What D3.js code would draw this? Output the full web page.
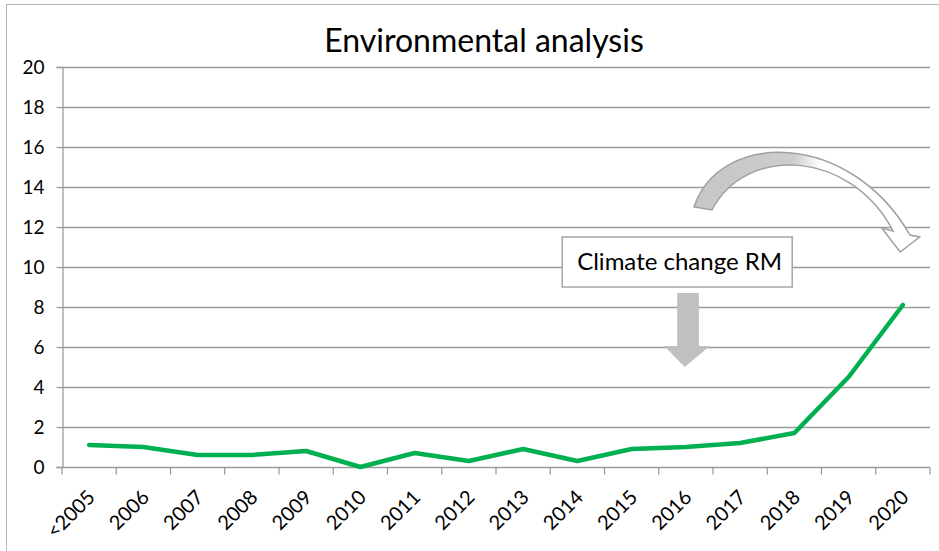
<!DOCTYPE html>
<html>
<head>
<meta charset="utf-8">
<script src="https://cdn.jsdelivr.net/npm/d3@7"></script>
<style>
  html, body { margin: 0; padding: 0; background: #fff; }
  svg { display: block; font-family: Lato, "Open Sans", sans-serif; }
</style>
</head>
<body>
<div id="container"></div>
<script>

// data
const years = ["<2005", "2006", "2007", "2008", "2009", "2010", "2011", "2012",
               "2013", "2014", "2015", "2016", "2017", "2018", "2019", "2020"];
const values = [1.1, 1.0, 0.6, 0.6, 0.8, 0.0, 0.7, 0.3, 0.9, 0.3, 0.9, 1.0, 1.2, 1.7, 4.5, 8.1];
const yTicks = [0, 2, 4, 6, 8, 10, 12, 14, 16, 18, 20];
const title = "Environmental analysis";
const note = "Climate change RM";

// chart dimensions
const width = 939;
const height = 551;
const marginTop = 67;
const marginRight = 9;
const marginBottom = 84;
const marginLeft = 62;

const x = d3.scaleBand()
    .domain(years)
    .range([marginLeft, width - marginRight]);

const y = d3.scaleLinear()
    .domain([0, 20])
    .range([height - marginBottom, marginTop]);

// continuous position in band units, for the annotations
const xPos = t => x.range()[0] + t * x.step();
const pt = (t, v) => [xPos(t), y(v)];

const svg = d3.create("svg")
    .attr("width", width)
    .attr("height", height);

// chart frame
svg.append("rect")
    .attr("x", 6.5).attr("y", 4.5)
    .attr("width", width + 10).attr("height", height + 10)
    .attr("fill", "#fff")
    .attr("stroke", "#b4b4b4");

// title
svg.append("text")
    .attr("x", 484)
    .attr("y", 52)
    .attr("text-anchor", "middle")
    .attr("font-size", 32)
    .attr("fill", "#000")
    .text(title);

// gridlines
svg.append("g")
    .selectAll("line")
    .data(yTicks.filter(d => d > 0))
    .join("line")
    .attr("x1", marginLeft)
    .attr("x2", width - marginRight)
    .attr("y1", d => Math.round(y(d)) + 0.5)
    .attr("y2", d => Math.round(y(d)) + 0.5)
    .attr("stroke", "#9b9b9b")
    .attr("stroke-width", 1.3);

// y axis
const yAxis = svg.append("g")
    .attr("transform", `translate(${marginLeft + 0.5},0)`)
    .call(d3.axisLeft(y).tickValues(yTicks).tickSize(6).tickPadding(12));
yAxis.select(".domain").attr("stroke", "#9b9b9b").attr("stroke-width", 1.3);
yAxis.selectAll(".tick line").attr("stroke", "#9b9b9b").attr("stroke-width", 1.3);
yAxis.selectAll(".tick text")
    .attr("font-family", "Lato, sans-serif")
    .attr("font-size", 19)
    .attr("fill", "#000");

// x axis: ticks on the band boundaries
const xAxis = svg.append("g")
    .attr("transform", `translate(0,${Math.round(y(0)) + 0.5})`);
xAxis.append("line")
    .attr("x1", marginLeft).attr("x2", width - marginRight)
    .attr("stroke", "#9b9b9b").attr("stroke-width", 1.3);
xAxis.selectAll("line.tk")
    .data(d3.range(years.length + 1))
    .join("line")
    .attr("class", "tk")
    .attr("x1", d => xPos(d)).attr("x2", d => xPos(d))
    .attr("y1", 0).attr("y2", 7)
    .attr("stroke", "#9b9b9b").attr("stroke-width", 1.3);
xAxis.selectAll("text")
    .data(years)
    .join("text")
    .attr("text-anchor", "end")
    .attr("font-size", 20)
    .attr("fill", "#000")
    .attr("transform", d => `translate(${x(d) + x.bandwidth() / 2 + 7},${31}) rotate(-45)`)
    .text(d => d);

// the series line
const line = d3.line()
    .x((d, i) => x(years[i]) + x.bandwidth() / 2)
    .y(d => y(d));

svg.append("path")
    .attr("fill", "none")
    .attr("stroke", "#00b050")
    .attr("stroke-width", 4.5)
    .attr("stroke-linejoin", "round")
    .attr("stroke-linecap", "round")
    .attr("d", line(values));

/*** ANNOTATIONS ***/

// text box
const [bx0, by0] = pt(9.22, 11.5);
const [bx1, by1] = pt(13.46, 9.0);
svg.append("rect")
    .attr("x", bx0).attr("y", by0)
    .attr("width", bx1 - bx0).attr("height", by1 - by0)
    .attr("fill", "#fff")
    .attr("stroke", "#a6a6a6")
    .attr("stroke-width", 1.5);
svg.append("text")
    .attr("x", bx0 + 15)
    .attr("y", by0 + 33)
    .attr("font-size", 24)
    .attr("fill", "#000")
    .text(note);

// down arrow under the box
const down = [
    pt(11.34, 8.7), pt(11.74, 8.7), pt(11.74, 6.05), pt(11.94, 6.05),
    pt(11.48, 5.0), pt(11.10, 6.05), pt(11.34, 6.05)
];
svg.append("path")
    .attr("d", "M" + down.join("L") + "Z")
    .attr("fill", "#c0c0c0");

// curved arrow with grey to white fill
const grad = svg.append("defs").append("linearGradient")
    .attr("id", "curve")
    .attr("gradientUnits", "userSpaceOnUse")
    .attr("x1", 694).attr("x2", 920)
    .attr("y1", 0).attr("y2", 0);
grad.append("stop").attr("offset", 0).attr("stop-color", "#c6c6c6");
grad.append("stop").attr("offset", 0.44).attr("stop-color", "#cdcdcd");
grad.append("stop").attr("offset", 0.56).attr("stop-color", "#ffffff");
grad.append("stop").attr("offset", 1).attr("stop-color", "#ffffff");

const c = {
    o0: pt(11.65, 13.0), o1: pt(12.12, 16.85), o2: pt(14.52, 16.85), o3: pt(15.63, 11.6),
    w1: pt(15.81, 11.5), tip: pt(15.45, 10.75), w2: pt(15.11, 11.95),
    i0: pt(15.32, 11.8), i1: pt(14.52, 15.9), i2: pt(12.6, 16.1), i3: pt(11.98, 12.85)
};
svg.append("path")
    .attr("d", `M${c.o0}C${c.o1} ${c.o2} ${c.o3}L${c.w1}L${c.tip}L${c.w2}L${c.i0}C${c.i1} ${c.i2} ${c.i3}Z`)
    .attr("fill", "url(#curve)")
    .attr("stroke", "#a0a0a0")
    .attr("stroke-width", 1.5)
    .attr("stroke-linejoin", "miter");

container.append(svg.node());
</script>
</body>
</html>
